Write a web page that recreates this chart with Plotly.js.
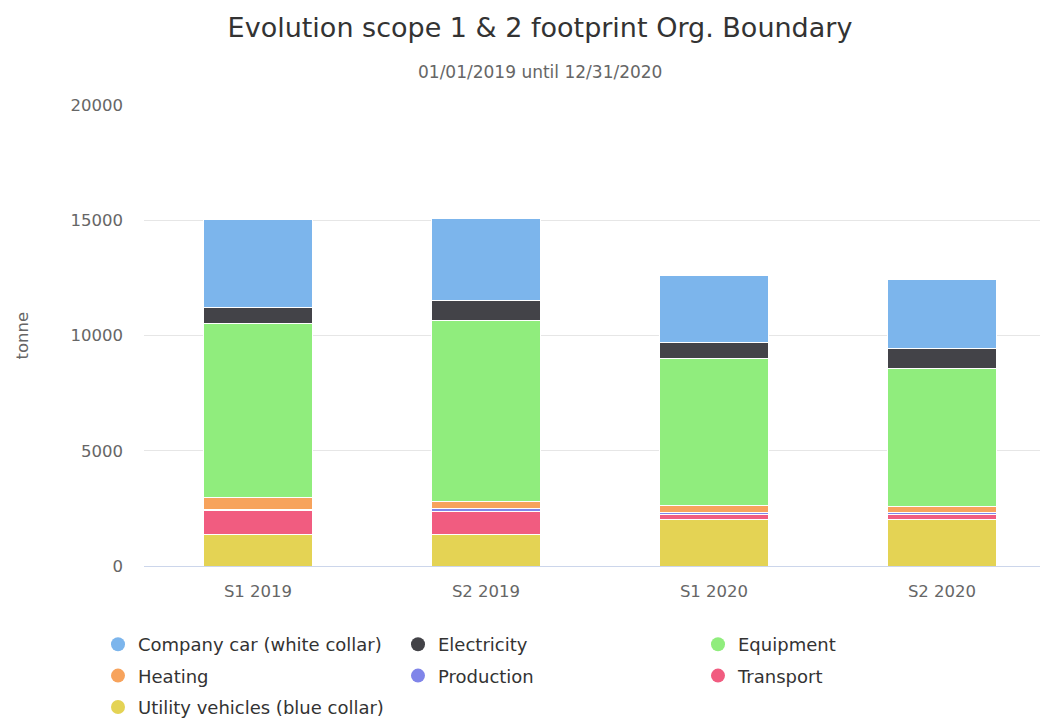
<!DOCTYPE html>
<html>
<head>
<meta charset="utf-8">
<script src="https://cdn.plot.ly/plotly-3.0.1.min.js"></script>
<style>html,body{margin:0;padding:0;background:#fff;}#chart{width:1040px;height:718px;}</style>
</head>
<body>
<div id="chart"></div>
<script>
// Data (tonne)
const categories = ['S1 2019', 'S2 2019', 'S1 2020', 'S2 2020'];
const utilityVehicles = [1360, 1360, 2030, 2030];
const transport = [1040, 990, 220, 200];
const production = [40, 160, 60, 70];
const heating = [540, 300, 330, 300];
const equipment = [7550, 7850, 6350, 5980];
const electricity = [700, 860, 690, 870];
const companyCar = [3810, 3570, 2910, 2970];
const yTicks = [0, 5000, 10000, 15000, 20000];

const FONT = 'DejaVu Sans, Verdana, sans-serif';

// stacking order bottom -> top
const stackSeries = [
  {name: 'Utility vehicles (blue collar)', values: utilityVehicles, color: '#e4d354'},
  {name: 'Transport', values: transport, color: '#f15c80'},
  {name: 'Production', values: production, color: '#8085e9'},
  {name: 'Heating', values: heating, color: '#f7a35c'},
  {name: 'Equipment', values: equipment, color: '#90ed7d'},
  {name: 'Electricity', values: electricity, color: '#434348'},
  {name: 'Company car (white collar)', values: companyCar, color: '#7cb5ec'}
];

// legend layout: [series name, legend id]
const legendOrder = [
  ['Company car (white collar)', 'legend'],
  ['Electricity', 'legend2'],
  ['Equipment', 'legend3'],
  ['Heating', 'legend'],
  ['Production', 'legend2'],
  ['Transport', 'legend3'],
  ['Utility vehicles (blue collar)', 'legend']
];

const data = stackSeries.map(s => ({
  type: 'bar',
  name: s.name,
  x: categories,
  y: s.values,
  marker: {color: s.color, line: {color: '#ffffff', width: 1}},
  showlegend: false,
  hoverinfo: 'x+y+name'
}));

legendOrder.forEach(([name, lg]) => {
  const s = stackSeries.find(t => t.name === name);
  data.push({
    type: 'scatter',
    mode: 'markers',
    name: name,
    x: [null],
    y: [null],
    legend: lg,
    legendgroup: name,
    marker: {color: s.color, size: 14, symbol: 'circle'},
    showlegend: true,
    hoverinfo: 'skip'
  });
});

const legendBase = {
  orientation: 'v',
  xref: 'container', yref: 'container',
  xanchor: 'left', yanchor: 'top',
  y: 1 - 626 / 718,
  font: {family: FONT, size: 18, color: '#333333'},
  bgcolor: 'rgba(0,0,0,0)',
  traceorder: 'grouped',
  tracegroupgap: 5,
  itemclick: false, itemdoubleclick: false
};

const layout = {
  width: 1040,
  height: 718,
  paper_bgcolor: '#ffffff',
  plot_bgcolor: '#ffffff',
  font: {family: FONT, color: '#666666'},
  barmode: 'stack',
  bargap: 0.522,
  margin: {l: 144, r: 0, t: 105, b: 152, autoexpand: false},
  title: {
    text: 'Evolution scope 1 & 2 footprint Org. Boundary',
    font: {family: FONT, size: 27, color: '#333333'},
    xref: 'container', yref: 'container',
    x: 540 / 1040, xanchor: 'center',
    y: 1 - 28 / 718, yanchor: 'middle'
  },
  annotations: [{
    text: '01/01/2019 until 12/31/2020',
    xref: 'paper', yref: 'paper',
    x: (540 - 144) / 896, y: 1 + (105 - 72) / 461,
    xanchor: 'center', yanchor: 'middle',
    showarrow: false,
    font: {family: FONT, size: 17, color: '#666666'}
  }, {
    text: 'tonne',
    xref: 'paper', yref: 'paper',
    x: (22 - 144) / 896, y: 0.5,
    xanchor: 'center', yanchor: 'middle',
    textangle: -90,
    showarrow: false,
    font: {family: FONT, size: 16.5, color: '#666666'}
  }],
  xaxis: {
    type: 'category',
    range: [-0.5, 896 / 228 - 0.5],
    showgrid: false,
    showline: true,
    linecolor: '#ccd6eb',
    linewidth: 1,
    ticks: '',
    tickfont: {family: FONT, size: 16.5, color: '#666666'},
    ticklabelstandoff: 10,
    fixedrange: true
  },
  yaxis: {
    range: [0, 20000],
    tickvals: yTicks,
    ticktext: yTicks.map(String),
    showgrid: true,
    gridcolor: '#e6e6e6',
    gridwidth: 1,
    zeroline: false,
    showline: false,
    ticks: '',
    tickfont: {family: FONT, size: 16.5, color: '#666666'},
    ticklabelstandoff: 20,
    fixedrange: true
  },
  legend: Object.assign({}, legendBase, {x: 98 / 1040}),
  legend2: Object.assign({}, legendBase, {x: 398 / 1040}),
  legend3: Object.assign({}, legendBase, {x: 698 / 1040})
};

Plotly.newPlot('chart', data, layout, {displayModeBar: false, staticPlot: true});
</script>
</body>
</html>
